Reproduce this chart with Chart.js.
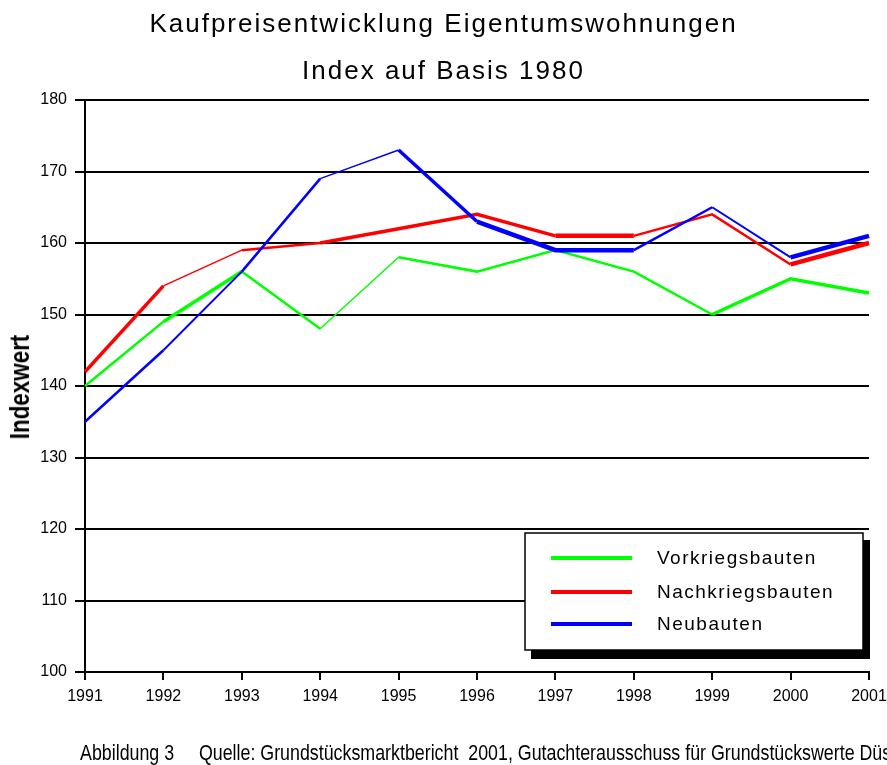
<!DOCTYPE html>
<html>
<head>
<meta charset="utf-8">
<script src="https://cdn.jsdelivr.net/npm/chart.js@4.4.1/dist/chart.umd.min.js"></script>
<style>
  html, body { margin: 0; padding: 0; background: #fff; overflow: hidden; }
  #wrap { position: relative; width: 887px; height: 765px; overflow: hidden; }
  #chart { position: absolute; left: 0; top: 0; }
  .title { position: absolute; left: 0; width: 887px; text-align: center;
           font-family: "Liberation Sans", Arial, sans-serif; font-size: 26px;
           letter-spacing: 2px; color: #000; white-space: nowrap; }
  #ytitle { position: absolute; left: 20px; top: 387px; transform: translate(-50%, -50%) rotate(-90deg) scaleX(0.8);
            font-family: "Liberation Sans", Arial, sans-serif; font-weight: bold;
            font-size: 28px; color: #000; white-space: nowrap; }
  #footer { position: absolute; left: 80px; top: 740px; white-space: pre; transform: scaleX(0.81); transform-origin: left top;
            font-family: "Liberation Sans", Arial, sans-serif; font-size: 22px; color: #000; }
</style>
</head>
<body>
<div id="wrap">
  <canvas id="chart" width="887" height="765"></canvas>
  <div class="title" style="top:8px">Kaufpreisentwicklung Eigentumswohnungen</div>
  <div class="title" style="top:55px">Index auf Basis 1980</div>
  <div id="ytitle">Indexwert</div>
  <div id="footer">Abbildung 3     Quelle: Grundstücksmarktbericht  2001, Gutachterausschuss für Grundstückswerte Düsseldorf</div>
</div>
<script>
const years = ['1991', '1992', '1993', '1994', '1995', '1996', '1997', '1998', '1999', '2000', '2001'];
const vorkriegsbauten = [140, 149, 156, 148, 158, 156, 159, 156, 150, 155, 153];
const nachkriegsbauten = [142, 154, 159, 160, 162, 164, 161, 161, 164, 157, 160];
const neubauten = [135, 145, 156, 169, 173, 163, 159, 159, 165, 158, 161];
const seriesNames = ['Vorkriegsbauten', 'Nachkriegsbauten', 'Neubauten'];

// the old chart renders segments with uneven pen widths
const greenWidths = [2.5, 3.5, 2.5, 1.5, 2.5, 2.5, 2.5, 2.5, 3.5, 3.5];
const redWidths = [3.5, 1.5, 2.5, 3.5, 3.5, 3.5, 4.5, 2.5, 2.5, 4.5];
const blueWidths = [2.5, 2, 2.5, 1.5, 3.5, 4.5, 4.5, 2.5, 2, 4.5];

function lineSet(label, data, color, widths, order) {
  return {
    label, data, order,
    borderColor: color,
    backgroundColor: color,
    fill: false,
    tension: 0,
    pointRadius: 0,
    borderWidth: 2,
    segment: { borderWidth: ctx => widths[ctx.p0DataIndex] }
  };
}

// boxed legend with a drop shadow
const boxLegend = {
  id: 'boxLegend',
  afterDraw(chart) {
    const ctx = chart.ctx;
    ctx.save();
    ctx.fillStyle = '#000';
    ctx.fillRect(531, 540, 339, 119);
    ctx.fillStyle = '#fff';
    ctx.fillRect(525, 533, 338, 117);
    ctx.strokeStyle = '#000';
    ctx.lineWidth = 1.5;
    ctx.strokeRect(525, 533, 338, 117);
    const rows = [558, 592, 624];
    ctx.font = '19px "Liberation Sans", Arial, sans-serif';
    ctx.letterSpacing = '1.5px';
    ctx.textBaseline = 'middle';
    chart.data.datasets.forEach((ds, i) => {
      ctx.fillStyle = ds.borderColor;
      ctx.fillRect(551, rows[i] - 2, 81, 4);
      ctx.fillStyle = '#000';
      ctx.fillText(ds.label, 657, rows[i] + 1);
    });
    ctx.restore();
  }
};

const tickFont = { family: '"Liberation Sans", Arial, sans-serif', size: 16 };

new Chart(document.getElementById('chart'), {
  type: 'line',
  data: {
    labels: years,
    datasets: [
      lineSet(seriesNames[0], vorkriegsbauten, '#00ff00', greenWidths, 2),
      lineSet(seriesNames[1], nachkriegsbauten, '#ff0000', redWidths, 1),
      lineSet(seriesNames[2], neubauten, '#0000ff', blueWidths, 0)
    ]
  },
  options: {
    responsive: false,
    animation: false,
    layout: { padding: { left: 0, top: 100, right: 18, bottom: 0 } },
    plugins: {
      legend: { display: false },
      tooltip: { enabled: false }
    },
    scales: {
      x: {
        offset: false,
        afterFit: s => { s.height = 93; s.paddingLeft = 0; s.paddingRight = 0; },
        grid: { drawOnChartArea: false, drawTicks: true, tickLength: 8, color: '#000', lineWidth: 2 },
        border: { display: true, color: '#000', width: 2 },
        ticks: { color: '#000', font: tickFont, padding: 7, maxRotation: 0, autoSkip: false }
      },
      y: {
        min: 100,
        max: 180,
        afterFit: s => { s.width = 85; s.paddingTop = 0; s.paddingBottom = 0; },
        ticks: { stepSize: 10, color: '#000', font: tickFont, padding: 8 },
        grid: { color: '#000', lineWidth: 2, drawTicks: true, tickLength: 10 },
        border: { display: true, color: '#000', width: 2 }
      }
    }
  },
  plugins: [boxLegend]
});
</script>
</body>
</html>
